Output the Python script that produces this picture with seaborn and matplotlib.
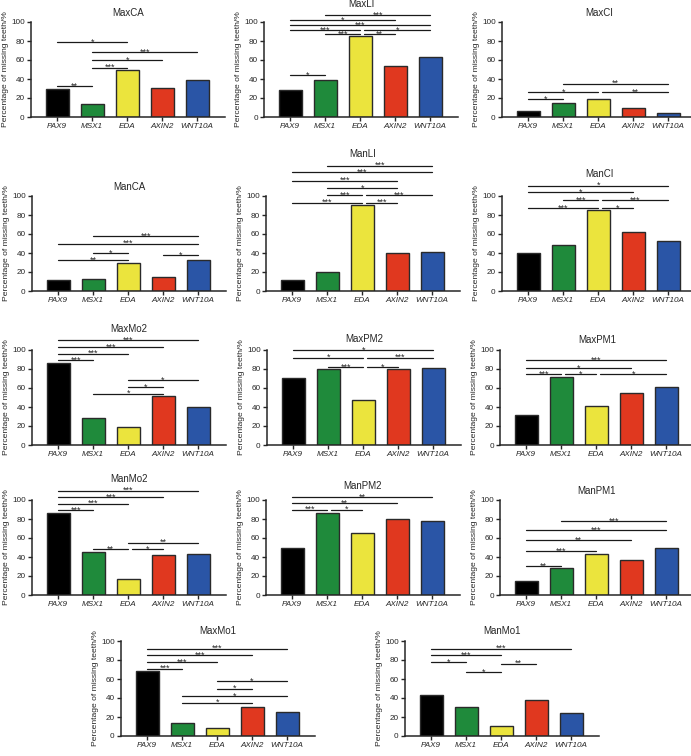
import numpy as np
import pandas as pd
import matplotlib
matplotlib.use('Agg')
import matplotlib.pyplot as plt
import matplotlib.transforms as mtransforms
import seaborn as sns

sns.set_style('ticks')
plt.rcParams['font.family'] = ['Liberation Sans', 'DejaVu Sans']

# genes / colours
genes = ['PAX9', 'MSX1', 'EDA', 'AXIN2', 'WNT10A']
palette = ['#000000', '#1f8a3b', '#ebe43d', '#e0381f', '#2a55a6']

# percentage of missing teeth per tooth type
max_ca = [30, 14, 49, 31, 39]
max_li = [28, 39, 85, 54, 63]
max_ci = [6, 15, 19, 9.5, 4.6]
man_ca = [11.5, 13, 30, 15, 32.5]
man_li = [12, 20, 91, 40, 41]
man_ci = [40, 48, 85, 62, 53]
max_mo2 = [86, 28.5, 19, 52, 39.5]
max_pm2 = [71, 80, 47, 79.5, 81]
max_pm1 = [32, 71.5, 41, 54.5, 61]
man_mo2 = [86, 45.5, 17, 42, 43]
man_pm2 = [50, 86.5, 65.5, 80, 78]
man_pm1 = [14.5, 28.5, 43, 37, 49]
max_mo1 = [68, 13.5, 8.5, 30.5, 25]
man_mo1 = [43.5, 30.5, 10.5, 37.5, 24]

# significance brackets: (gene a, gene b, level, stars)
max_ca_sig = [(0, 1, 32.5, '**'), (1, 2, 52, '***'), (1, 3, 60, '*'), (1, 4, 68, '***'), (0, 2, 79, '*')]
max_li_sig = [(0, 1, 44, '*'), (1, 2, 87, '***'), (2, 3, 87, '**'), (0, 2, 91.5, '***'), (2, 4, 91.5, '*'),
              (0, 4, 96.5, '***'), (0, 3, 102, '*'), (1, 4, 107, '***')]
max_ci_sig = [(0, 1, 19, '*'), (0, 2, 26, '*'), (2, 4, 26, '**'), (1, 4, 35, '**')]
man_ca_sig = [(0, 2, 32.5, '**'), (1, 2, 40, '*'), (3, 4, 37.5, '*'), (0, 4, 50, '***'), (1, 4, 58, '***')]
man_li_sig = [(0, 2, 93, '***'), (2, 3, 93, '***'), (1, 2, 101, '***'), (2, 4, 101, '***'), (1, 3, 108, '*'),
              (0, 3, 116, '***'), (0, 4, 125, '***'), (1, 4, 132, '***')]
man_ci_sig = [(0, 2, 87, '***'), (2, 3, 87, '*'), (1, 2, 95.5, '***'), (2, 4, 95.5, '***'), (0, 3, 104, '*'),
              (0, 4, 111, '*')]
max_mo2_sig = [(0, 1, 89, '***'), (0, 2, 96, '***'), (0, 3, 103, '***'), (0, 4, 110, '***'), (1, 3, 54, '*'),
               (2, 3, 61, '*'), (2, 4, 68, '*')]
max_pm2_sig = [(1, 2, 82, '***'), (2, 3, 82, '*'), (0, 2, 92, '*'), (2, 4, 92, '***'), (0, 4, 100, '*')]
max_pm1_sig = [(0, 1, 74.6, '***'), (1, 2, 74.6, '*'), (2, 4, 74.6, '*'), (0, 3, 81, '*'), (0, 4, 89, '***')]
man_mo2_sig = [(0, 1, 89, '***'), (0, 2, 96, '***'), (0, 3, 103, '***'), (0, 4, 110, '***'), (1, 2, 48, '**'),
               (2, 3, 48, '*'), (2, 4, 55, '**')]
man_pm2_sig = [(0, 1, 90, '***'), (1, 2, 90, '*'), (0, 3, 96.5, '**'), (0, 4, 103, '**')]
man_pm1_sig = [(0, 1, 30.6, '**'), (0, 2, 46, '***'), (0, 3, 58, '**'), (0, 4, 68, '***'), (1, 4, 78, '***')]
max_mo1_sig = [(0, 1, 71, '***'), (0, 2, 78, '***'), (0, 3, 85, '***'), (0, 4, 92, '***'), (1, 3, 35, '*'),
               (1, 4, 42, '*'), (2, 3, 50, '*'), (2, 4, 58, '*')]
man_mo1_sig = [(1, 2, 67, '*'), (2, 3, 76, '**'), (0, 1, 78, '*'), (0, 2, 85, '***'), (0, 4, 92, '***')]

# panel layout in pixels: name, values, brackets, left spine x, y of 0, y of 100
W, H = 691, 756
panels = [
    ('MaxCA', max_ca, max_ca_sig, 31, 117, 22),
    ('MaxLI', max_li, max_li_sig, 264, 117, 22),
    ('MaxCI', max_ci, max_ci_sig, 502, 117, 22),
    ('ManCA', man_ca, man_ca_sig, 32, 291, 196),
    ('ManLI', man_li, man_li_sig, 266, 291, 196),
    ('ManCI', man_ci, man_ci_sig, 502, 291, 196),
    ('MaxMo2', max_mo2, max_mo2_sig, 32, 445, 350),
    ('MaxPM2', max_pm2, max_pm2_sig, 267, 445, 350),
    ('MaxPM1', max_pm1, max_pm1_sig, 500, 445, 350),
    ('ManMo2', man_mo2, man_mo2_sig, 32, 595, 500),
    ('ManPM2', man_pm2, man_pm2_sig, 266, 595, 500),
    ('ManPM1', man_pm1, man_pm1_sig, 500, 595, 500),
    ('MaxMo1', max_mo1, max_mo1_sig, 121, 736, 641),
    ('ManMo1', man_mo1, man_mo1_sig, 405, 736, 641),
]

fig = plt.figure(figsize=(W / 100, H / 100), dpi=100)


def draw_panel(name, vals, sig, left, y0, y100):
    ax = fig.add_axes([left / W, 1 - y0 / H, 194 / W, (y0 - y100) / H])
    df = pd.DataFrame({'gene': genes, 'pct': vals})
    sns.barplot(data=df, x='gene', y='pct', hue='gene', palette=palette, saturation=1,
                width=0.66, edgecolor='#2a2a2a', linewidth=1.0, legend=False, ax=ax)
    ax.set_xlim(-0.75, 4.8)
    ax.set_ylim(0, 100)
    ax.set_yticks(np.arange(0, 101, 20))
    ax.tick_params(labelsize=5.9, length=3, width=1, pad=1.5)
    for lab in ax.get_xticklabels():
        lab.set_fontstyle('italic')
    ax.set_xlabel('')
    ax.set_ylabel('Percentage of missing teeth/%', fontsize=6.1, labelpad=1.5)
    sns.despine(ax=ax)
    for s in ['left', 'bottom']:
        ax.spines[s].set_linewidth(1.1)

    # brackets; shift start when another bracket ends there at same level
    ends = {(b, lvl) for a, b, lvl, _ in sig}
    for a, b, lvl, stars in sig:
        xa = a + 0.12 if (a, lvl) in ends else a
        ax.plot([xa, b], [lvl, lvl], color='#1a1a1a', lw=0.9, clip_on=False)
        ax.text((xa + b) / 2, lvl - 2.5, stars, ha='center', va='baseline', fontsize=6.5,
                clip_on=False)

    top = max(lvl for _, _, lvl, _ in sig)
    ytitle = max(110, top + 12)
    trans = mtransforms.blended_transform_factory(ax.transAxes, ax.transData)
    ax.text(0.5, ytitle, name, transform=trans, ha='center', va='center', fontsize=7)
    return ax


for p in panels:
    draw_panel(*p)

fig.savefig('out.png', dpi=100)
